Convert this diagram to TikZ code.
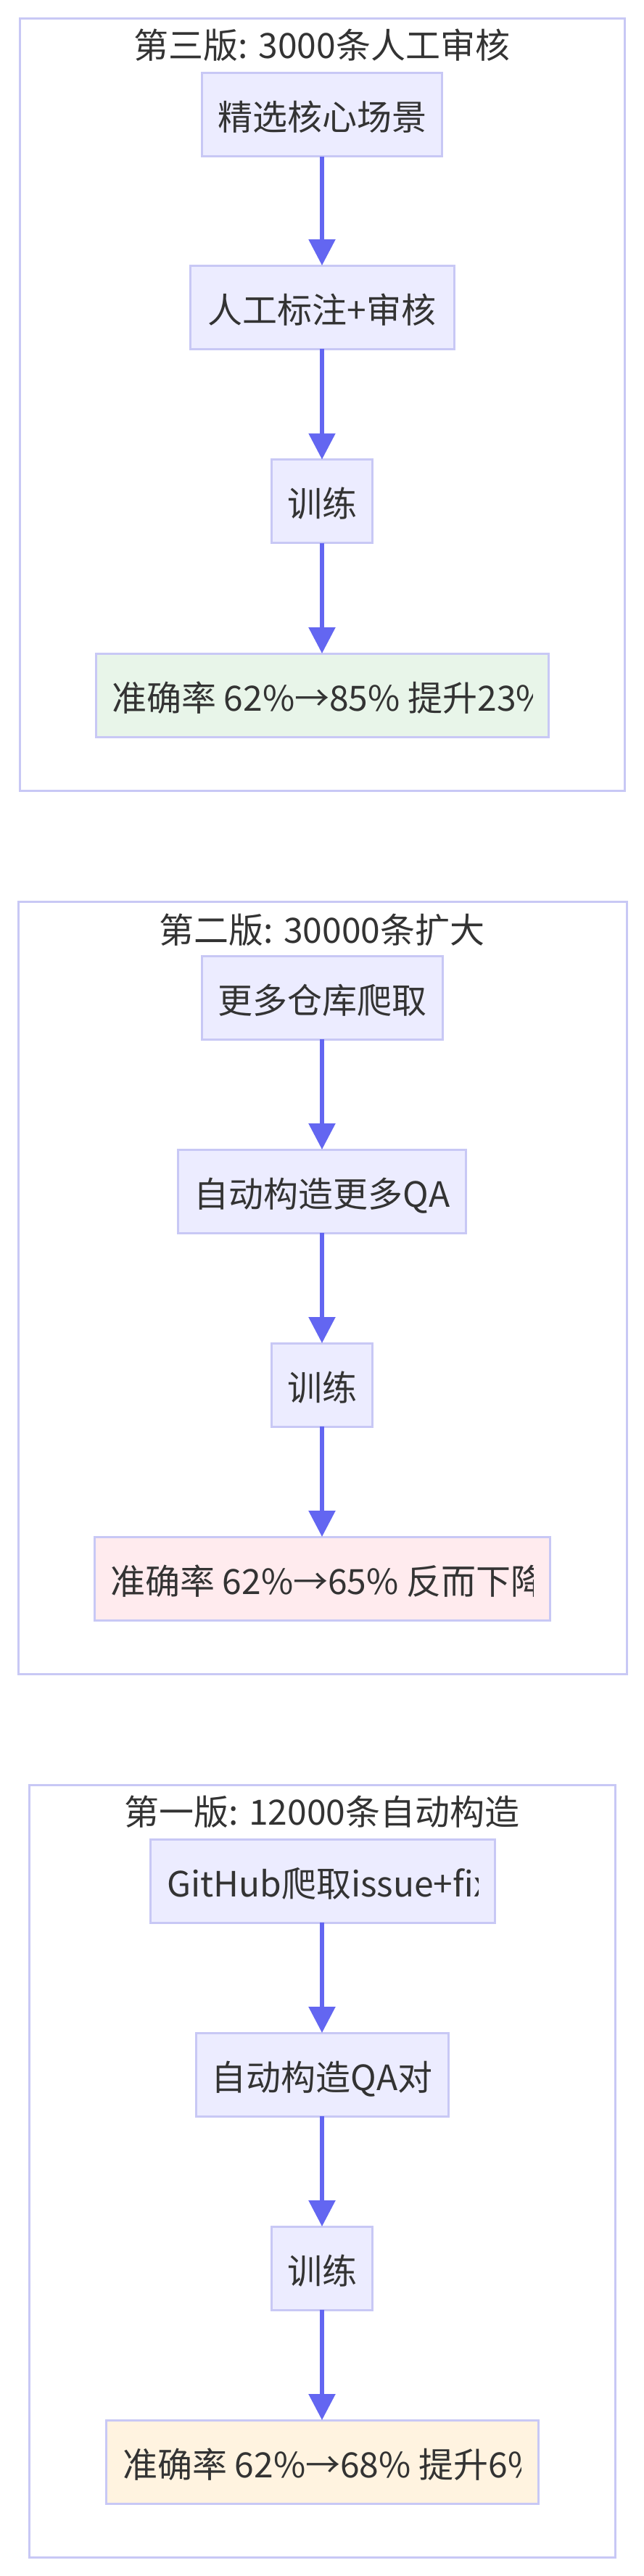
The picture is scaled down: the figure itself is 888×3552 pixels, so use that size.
\documentclass[tikz,border=0pt]{standalone}
\usepackage{fontspec}
\setmainfont{Noto Sans CJK SC}
\usetikzlibrary{arrows.meta}
\definecolor{nfill}{HTML}{ECECFF}
\definecolor{nline}{HTML}{C8C8F5}
\definecolor{arrowc}{HTML}{6366F1}
\definecolor{okfill}{HTML}{E8F5E9}
\definecolor{badfill}{HTML}{FFEBEE}
\definecolor{midfill}{HTML}{FFF3E0}
\definecolor{txt}{HTML}{333333}
\begin{document}
\begin{tikzpicture}[x=1pt,y=-1pt,
  every node/.style={font=\fontsize{48}{56}\selectfont, text=txt, inner sep=0pt, outer sep=0pt},
  lbl/.style={text height=48pt, text depth=5pt},
  proc/.style={lbl, draw=nline, line width=3pt, fill=nfill, minimum height=115pt},
  cluster/.style={draw=nline, line width=3pt, fill=white, minimum height=1065pt},
  flow/.style={draw=arrowc, line width=5.5pt, -{Triangle[width=36pt,length=36pt]}}
]
\fill[white] (0,0) rectangle (888,3552);
\useasboundingbox (0,0) rectangle (888,3552);

% ---------- third version ----------
\node[cluster, minimum width=834pt] (s3) at (444,558) {};
\node[lbl] (t3) at (444,59) {第三版: 3000条人工审核};
\node[proc, minimum width=331pt] (a1) at (444,158) {精选核心场景};
\node[proc, minimum width=364pt] (a2) at (444,423.5) {人工标注+审核};
\node[proc, minimum width=139pt] (a3) at (444,691) {训练};
\node[proc, fill=okfill, minimum width=624pt] (a4) at (444,958.5) {};
\begin{scope}
  \clip ([xshift=21pt]a4.south west) rectangle ([xshift=-22pt]a4.north east);
  \node[lbl, anchor=west] (a4t) at ([xshift=22pt]a4.west) {准确率 62\%→85\% 提升23\%};
\end{scope}
\draw[flow] (a1) -- (a2);
\draw[flow] (a2) -- (a3);
\draw[flow] (a3) -- (a4);

% ---------- second version ----------
\node[cluster, minimum width=839pt] (s2) at (444.5,1776) {};
\node[lbl] (t2) at (444,1279) {第二版: 30000条扩大};
\node[proc, minimum width=332pt] (b1) at (444,1375.5) {更多仓库爬取};
\node[proc, minimum width=397pt] (b2) at (444,1642.5) {自动构造更多QA};
\node[proc, minimum width=139pt] (b3) at (444,1909.5) {训练};
\node[proc, fill=badfill, minimum width=628pt] (b4) at (444,2176.5) {};
\begin{scope}
  \clip ([xshift=21pt]b4.south west) rectangle ([xshift=-23pt]b4.north east);
  \node[lbl, anchor=west] (b4t) at ([xshift=22pt]b4.west) {准确率 62\%→65\% 反而下降};
\end{scope}
\draw[flow] (b1) -- (b2);
\draw[flow] (b2) -- (b3);
\draw[flow] (b3) -- (b4);

% ---------- first version ----------
\node[cluster, minimum width=808pt] (s1) at (444,2994) {};
\node[lbl] (t1) at (444,2495) {第一版: 12000条自动构造};
\node[proc, fill=nfill, minimum width=475pt] (c1) at (444.5,2593.5) {};
\begin{scope}
  \clip ([xshift=21pt]c1.south west) rectangle ([xshift=-23pt]c1.north east);
  \node[lbl, anchor=west] (c1t) at ([xshift=23pt]c1.west) {GitHub爬取issue+fix};
\end{scope}
\node[proc, minimum width=348pt] (c2) at (444,2860.5) {自动构造QA对};
\node[proc, minimum width=139pt] (c3) at (444,3127.5) {训练};
\node[proc, fill=midfill, minimum width=596pt] (c4) at (444,3394.5) {};
\begin{scope}
  \clip ([xshift=21pt]c4.south west) rectangle ([xshift=-24pt]c4.north east);
  \node[lbl, anchor=west] (c4t) at ([xshift=23pt]c4.west) {准确率 62\%→68\% 提升6\%};
\end{scope}
\draw[flow] (c1.south -| c2) -- (c2);
\draw[flow] (c2) -- (c3);
\draw[flow] (c3) -- (c4);
\end{tikzpicture}
\end{document}
